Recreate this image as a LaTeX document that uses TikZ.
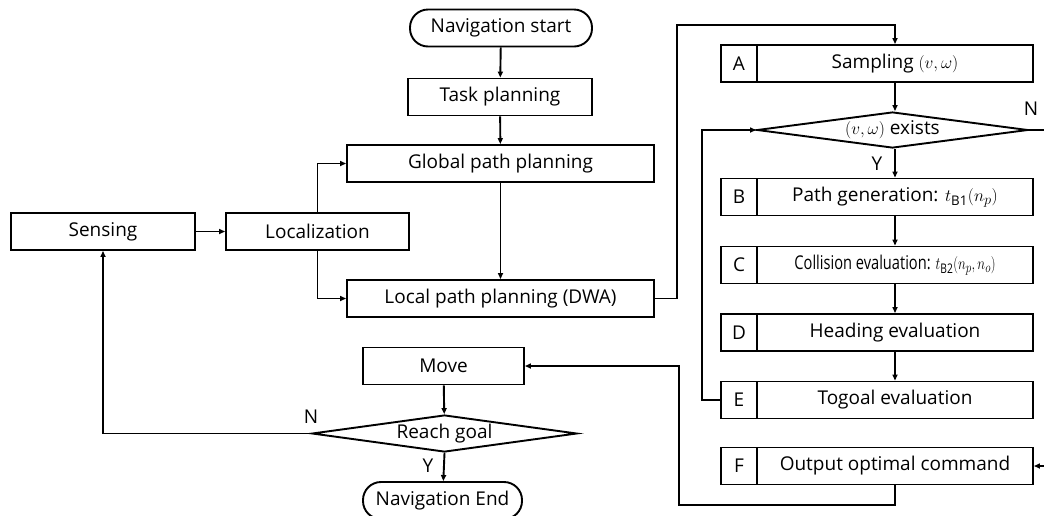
\documentclass[tikz,border=0pt]{standalone}
\usepackage{fontspec}
\usepackage{graphicx}
\setmainfont{Open Sans}
\usetikzlibrary{shapes.geometric,arrows.meta}
\begin{document}
\begin{tikzpicture}[x=1pt,y=-1pt,
  line width=1.9pt,
  every node/.style={font=\fontsize{19}{22}\selectfont},
  box/.style={draw, rectangle, inner sep=0pt, minimum height=37pt},
  term/.style={draw, rectangle, rounded corners=18pt, inner sep=0pt, minimum height=37pt},
  decide/.style={draw, diamond, inner sep=0pt, aspect=7.5},
  arr/.style={-{Triangle[length=6pt,width=5pt]}},
  lbl/.style={inner sep=0pt}]
\useasboundingbox (0,0) rectangle (1044,515);

% main navigation loop
\node[term, minimum width=182pt] (start) at (501,28) {Navigation start};
\node[box, minimum width=184pt] (task) at (500,97) {Task planning};
\node[box, minimum width=307pt] (global) at (500.5,163.5) {Global path planning};
\node[box, minimum width=307pt] (local) at (500.5,298.5) {Local path planning (DWA)};
\node[box, minimum width=183pt] (loc) at (317.5,231.5) {Localization};
\node[box, minimum width=184pt] (sense) at (103,231.5) {Sensing};
\node[box, minimum width=161pt] (move) at (443.5,366) {Move};
\node[decide, minimum width=265pt, minimum height=37pt] (goal) at (444.5,433.5) {Reach goal};
\node[term, minimum width=159pt] (end) at (442.5,500.5) {Navigation End};

% DWA steps
\node[box, minimum width=36pt] (Al) at (739,63.5) {A};
\node[box, minimum width=276pt] (Am) at (895,63.5) {Sampling $(v,\omega)$};
\node[decide, minimum width=271pt, minimum height=36pt] (ex) at (892.5,130) {$(v,\omega)$ exists};
\node[box, minimum width=36pt] (Bl) at (739,197) {B};
\node[box, minimum width=276pt] (Bm) at (895,197) {Path generation: $t_{\mathrm{B1}}(n_p)$};
\node[box, minimum width=36pt] (Cl) at (739,265) {C};
\node[box, minimum width=276pt] (Cm) at (895,265) {\scalebox{0.77}[1]{Collision evaluation: $t_{\mathrm{B2}}(n_p,n_o)$}};
\node[box, minimum width=36pt] (Dl) at (739,332.5) {D};
\node[box, minimum width=276pt] (Dm) at (895,332.5) {Heading evaluation};
\node[box, minimum width=36pt] (El) at (739,400) {E};
\node[box, minimum width=276pt] (Em) at (895,400) {Togoal evaluation};
\node[box, minimum width=36pt] (Fl) at (739,466) {F};
\node[box, minimum width=276pt] (Fm) at (895,466) {Output optimal command};

% routing points
\coordinate (up) at (677,25);
\coordinate (loopx) at (702,400);
\coordinate (nout) at (1044,130);
\coordinate (fin) at (1044,466);
\coordinate (low) at (679,505);

% connectors
\draw[arr] (start) -- (task);
\draw[arr] (task) -- (global);
\draw[arr] (sense) -- (loc);
\draw[arr] (loc.north) |- (global.west);
\draw[arr] (loc.south) |- (local.west);
\draw[arr] (global) -- (local);
\draw[arr] (local.east) -| (up) -| (Am.north);
\draw[arr] (Am.south) -- (Am.south |- ex.north);
\draw[arr] (Am.south |- ex.south) -- (Bm.north);
\draw[arr] (Bm) -- (Cm);
\draw[arr] (Cm) -- (Dm);
\draw[arr] (Dm) -- (Em);
\draw[arr] (El.west) -- (loopx) |- (ex.west);
\draw (ex.east) -- (nout);
\draw[arr] (fin) -- (Fm.east);
\draw[arr] (Fm.south) |- (low) |- (move.east);
\draw[arr] (move) -- (goal);
\draw[arr] (goal.south) -- (end);
\draw[arr] (goal.west) -| (sense.south);

% branch labels
\node[lbl] (ny) at (877,164) {Y};
\node[lbl] (nn) at (1031,109) {N};
\node[lbl] (gy) at (428,466) {Y};
\node[lbl] (gn) at (311,417) {N};
\end{tikzpicture}
\end{document}
